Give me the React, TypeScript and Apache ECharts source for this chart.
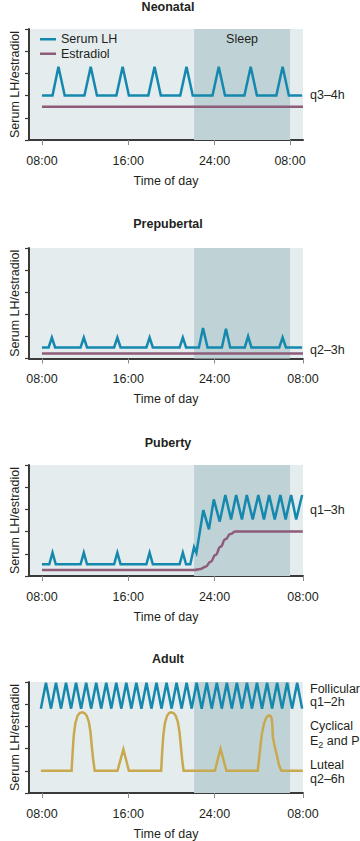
import React, { useEffect, useRef } from "react";
import * as echarts from "echarts";

// ---------- data (hours of day, 32 = 08:00 next day; relative level 0-5) ----------
const panelTitles = ["Neonatal", "Prepubertal", "Puberty", "Adult"];
const tickLabels = ["08:00", "16:00", "24:00", "08:00"];
const neonatalTicks = [8, 16, 24, 31];
const standardTicks = [8, 16, 24, 32.2];
const sleepWindow = [22.1, 31.0];

const neonatalLH = [
  [8, 2], [8.98, 2], [9.53, 3.3], [10.11, 2], [11.94, 2], [12.52, 3.3], [13.1, 2],
  [14.9, 2], [15.48, 3.3], [16.06, 2], [17.86, 2], [18.44, 3.3], [19.02, 2],
  [20.82, 2], [21.4, 3.3], [21.98, 2], [23.81, 2], [24.39, 3.3], [24.97, 2],
  [26.77, 2], [27.35, 3.3], [27.93, 2], [29.73, 2], [30.31, 3.3], [30.89, 2], [32.12, 2],
];
const neonatalE2 = [[8, 1.5], [32.2, 1.5]];

const prepubertalLH = [
  [8, 0.5], [8.62, 0.5], [8.92, 0.95], [9.22, 0.5], [11.58, 0.5], [11.88, 0.95], [12.18, 0.5],
  [14.69, 0.5], [14.99, 0.95], [15.29, 0.5], [17.68, 0.5], [17.98, 0.95], [18.28, 0.5],
  [20.76, 0.5], [21.06, 0.95], [21.36, 0.5], [22.55, 0.5], [22.93, 1.38], [23.35, 0.5],
  [24.68, 0.5], [25.06, 1.35], [25.45, 0.5], [26.8, 0.5], [27.11, 1.0], [27.42, 0.5],
  [30.0, 0.5], [30.31, 0.95], [30.62, 0.5], [32.12, 0.5],
];
const prepubertalE2 = [[8, 0.23], [32.2, 0.23]];

const pubertyLH = [
  [8, 0.53], [8.68, 0.53], [8.98, 1.05], [9.28, 0.53], [11.58, 0.53], [11.88, 1.05], [12.18, 0.53],
  [14.69, 0.53], [14.99, 1.05], [15.29, 0.53], [17.68, 0.53], [17.98, 1.05], [18.28, 0.53],
  [20.76, 0.53], [21.06, 1.05], [21.36, 0.53], [21.75, 0.53], [22.1, 1.3], [22.32, 1.05],
  [22.96, 2.97], [23.48, 2.1], [23.93, 3.45], [24.48, 2.45], [25.0, 3.65], [25.53, 2.55],
  [26.0, 3.65], [26.54, 2.55], [26.99, 3.65], [27.54, 2.55], [28.06, 3.65], [28.58, 2.55],
  [29.06, 3.65], [29.58, 2.55], [30.1, 3.65], [30.59, 2.55], [31.1, 3.65], [31.57, 2.55],
  [32.12, 3.65],
];
const pubertyE2 = [
  [8, 0.27], [22.1, 0.27], [22.72, 0.32], [23.17, 0.42], [23.63, 0.64], [24.09, 0.95],
  [24.55, 1.32], [25.0, 1.65], [25.46, 1.89], [25.92, 2.0], [32.18, 2.0],
];

const adultLH = [
  [7.9, 3.8], [8.37, 4.97], [8.84, 3.8], [9.3, 4.97], [9.77, 3.8], [10.23, 4.97], [10.7, 3.8],
  [11.16, 4.97], [11.63, 3.8], [12.1, 4.97], [12.56, 3.8], [13.03, 4.97], [13.49, 3.8],
  [13.96, 4.97], [14.43, 3.8], [14.89, 4.97], [15.36, 3.8], [15.82, 4.97], [16.29, 3.8],
  [16.75, 4.97], [17.22, 3.8], [17.69, 4.97], [18.15, 3.8], [18.62, 4.97], [19.08, 3.8],
  [19.55, 4.97], [20.02, 3.8], [20.48, 4.97], [20.95, 3.8], [21.41, 4.97], [21.88, 3.8],
  [22.34, 4.97], [22.81, 3.8], [23.28, 4.97], [23.74, 3.8], [24.21, 4.97], [24.67, 3.8],
  [25.14, 4.97], [25.6, 3.8], [26.07, 4.97], [26.54, 3.8], [27.0, 4.97], [27.47, 3.8],
  [27.93, 4.97], [28.4, 3.8], [28.87, 4.97], [29.33, 3.8], [29.8, 4.97], [30.26, 3.8],
  [30.73, 4.97], [31.19, 3.8], [31.66, 4.97], [32.12, 3.8],
];
const adultSteroids = [
  [7.9, 1.0], [10.75, 1.0], [10.84, 1.8], [10.95, 2.6], [11.1, 3.15], [11.3, 3.48], [11.5, 3.6],
  [11.73, 3.63], [11.95, 3.6], [12.15, 3.48], [12.35, 3.2], [12.5, 2.75], [12.62, 2.1],
  [12.75, 1.5], [12.89, 1.0], [15.0, 1.0], [15.55, 1.97], [16.06, 1.0], [19.05, 1.0],
  [19.14, 1.8], [19.25, 2.6], [19.4, 3.15], [19.6, 3.48], [19.78, 3.6], [19.97, 3.63],
  [20.2, 3.6], [20.4, 3.48], [20.6, 3.2], [20.75, 2.75], [20.88, 2.1], [21.0, 1.5],
  [21.13, 1.0], [24.03, 1.0], [24.55, 2.0], [25.1, 1.0], [28.0, 1.0], [28.12, 1.5],
  [28.25, 2.1], [28.4, 2.7], [28.6, 3.15], [28.8, 3.4], [29.0, 3.5], [29.2, 3.47],
  [29.3, 3.35], [29.36, 3.0], [29.4, 2.55], [29.55, 2.15], [29.74, 1.79], [29.98, 1.25],
  [30.2, 1.0], [32.18, 1.0],
];

// ---------- styling ----------
const FONT = '"Liberation Sans", Arial, Helvetica, sans-serif';
const TEXT = "#231f20";
const LH_COLOR = "#1588ae";
const E2_COLOR = "#8e5c78";
const GOLD = "#c9a94f";
const BG = "#e4ecee";
const SLEEP = "#bfd3d7";
const AXIS = "#3a3a3a";
const FS = 12.5;

const gridBoxes = [
  { top: 29, height: 111 },
  { top: 248, height: 110.5 },
  { top: 465, height: 111 },
  { top: 682, height: 111 },
];
const titleY = [7, 223.5, 443, 659];

export default function App() {
  const ref = useRef<HTMLDivElement>(null);

  useEffect(() => {
    document.body.style.margin = "0";
    if (!ref.current) return;
    const chart = echarts.init(ref.current, undefined, { renderer: "svg" });

    const tickSets = [neonatalTicks, standardTicks, standardTicks, standardTicks];
    const textStyle = { fontSize: FS, color: TEXT, fontFamily: FONT };

    const lineSeries = (name: string, gi: number, data: number[][], color: string, extra: any = {}) => ({
      type: "line",
      name,
      xAxisIndex: gi,
      yAxisIndex: gi,
      data,
      symbol: "none",
      clip: false,
      silent: true,
      lineStyle: { color, width: 2.5, join: "miter" },
      itemStyle: { color },
      ...extra,
    });

    const sleepArea = (withLabel: boolean) => ({
      markArea: {
        silent: true,
        itemStyle: { color: SLEEP },
        label: withLabel
          ? { show: true, position: "insideTop", distance: 3, ...textStyle }
          : { show: false },
        data: [[{ name: "Sleep", xAxis: sleepWindow[0] }, { xAxis: sleepWindow[1] }]],
      },
    });

    const option: any = {
      animation: false,
      grid: gridBoxes.map((g) => ({
        left: 26,
        width: 277,
        top: g.top,
        height: g.height,
        show: true,
        backgroundColor: BG,
        borderWidth: 0,
      })),
      xAxis: gridBoxes.map((_, i) => ({
        type: "value",
        gridIndex: i,
        min: 6.8,
        max: 32.2,
        splitLine: { show: false },
        axisLine: { show: true, onZero: false, lineStyle: { color: AXIS, width: 2 } },
        axisTick: {
          show: true,
          customValues: tickSets[i],
          length: 5,
          lineStyle: { color: "#8a8a8a", width: 1 },
        },
        axisLabel: {
          show: true,
          customValues: tickSets[i],
          margin: 14,
          ...textStyle,
          formatter: (v: number) => {
            const idx = tickSets[i].indexOf(v);
            return idx >= 0 ? tickLabels[idx] : "";
          },
        },
        name: "Time of day",
        nameLocation: "middle",
        nameGap: 34,
        nameTextStyle: textStyle,
      })),
      yAxis: gridBoxes.map((_, i) => ({
        type: "value",
        gridIndex: i,
        min: 0,
        max: 5,
        interval: 1,
        splitLine: { show: false },
        axisLine: { show: true, lineStyle: { color: AXIS, width: 2 } },
        axisTick: { show: true, length: 4, lineStyle: { color: AXIS, width: 1.2 } },
        axisLabel: { show: false },
        name: "Serum LH/estradiol",
        nameLocation: "middle",
        nameRotate: 90,
        nameGap: 8,
        nameTextStyle: textStyle,
      })),
      legend: {
        data: ["Serum LH", "Estradiol"],
        orient: "vertical",
        left: 40,
        top: 32,
        icon: "rect",
        itemWidth: 16,
        itemHeight: 2.5,
        itemGap: 0,
        padding: 0,
        selectedMode: false,
        textStyle: { ...textStyle, lineHeight: 14.5, height: 14.5 },
      },
      series: [
        lineSeries("Serum LH", 0, neonatalLH, LH_COLOR, { z: 3, ...sleepArea(true) }),
        lineSeries("Estradiol", 0, neonatalE2, E2_COLOR, { z: 2 }),
        lineSeries("Serum LH", 1, prepubertalLH, LH_COLOR, { z: 3, ...sleepArea(false) }),
        lineSeries("Estradiol", 1, prepubertalE2, E2_COLOR, { z: 2 }),
        lineSeries("Serum LH", 2, pubertyLH, LH_COLOR, { z: 3, ...sleepArea(false) }),
        lineSeries("Estradiol", 2, pubertyE2, E2_COLOR, {
          z: 2,
          smooth: 0.5,
          smoothMonotone: "x",
        }),
        lineSeries("Serum LH", 3, adultLH, LH_COLOR, { z: 3, ...sleepArea(false) }),
        lineSeries("Cyclical E2 and P", 3, adultSteroids, GOLD, { z: 2 }),
      ],
      graphic: [
        ...panelTitles.map((t, i) => ({
          type: "text",
          x: 168,
          y: titleY[i],
          silent: true,
          style: {
            text: t,
            fill: TEXT,
            font: `bold ${FS}px ${FONT}`,
            align: "center",
            verticalAlign: "middle",
          },
        })),
        ...[
          { t: "q3–4h", y: 95 },
          { t: "q2–3h", y: 349.5 },
          { t: "q1–3h", y: 509.5 },
          { t: "Follicular", y: 688.5 },
          { t: "q1–2h", y: 702 },
          { t: "Cyclical", y: 726 },
          { t: "Luteal", y: 765 },
          { t: "q2–6h", y: 779 },
        ].map((d) => ({
          type: "text",
          x: 310,
          y: d.y,
          silent: true,
          style: {
            text: d.t,
            fill: TEXT,
            font: `${FS}px ${FONT}`,
            align: "left",
            verticalAlign: "middle",
          },
        })),
        {
          type: "text",
          x: 310,
          y: 740.5,
          silent: true,
          style: {
            text: "E{sub|2} and P",
            fill: TEXT,
            font: `${FS}px ${FONT}`,
            align: "left",
            verticalAlign: "middle",
            lineHeight: 17,
            rich: {
              sub: {
                fontSize: 9,
                fontFamily: FONT,
                fill: TEXT,
                lineHeight: 9,
                verticalAlign: "bottom",
              },
            },
          },
        },
      ],
    };

    chart.setOption(option);
    return () => chart.dispose();
  }, []);

  return <div ref={ref} style={{ width: 360, height: 841 }} />;
}
